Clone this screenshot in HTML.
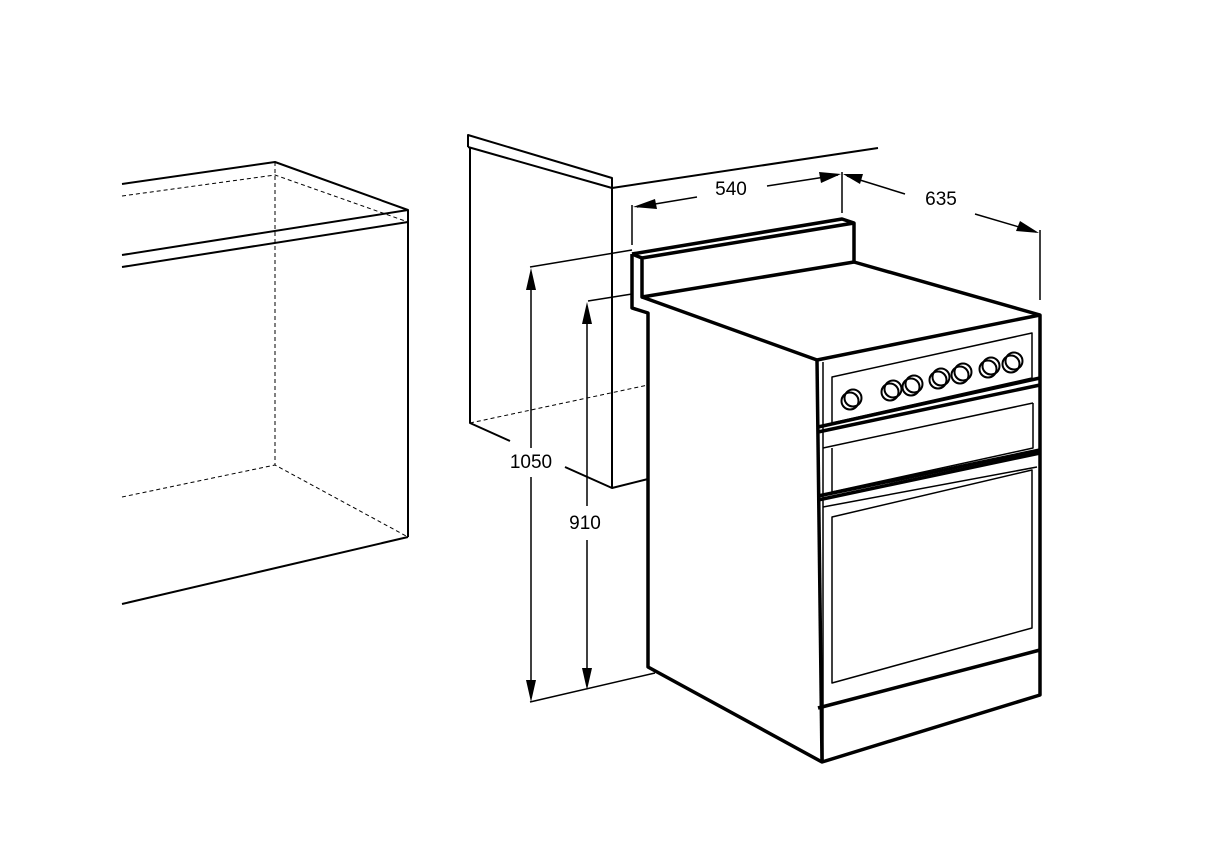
<!DOCTYPE html>
<html><head><meta charset="utf-8"><style>html,body{margin:0;padding:0;background:#fff}svg{display:block}</style></head><body>
<svg width="1214" height="867" viewBox="0 0 1214 867" xmlns="http://www.w3.org/2000/svg" fill="none" stroke="#000" stroke-linejoin="round">
<!-- left cabinet -->
<g stroke-width="2">
<path d="M122 184L275 162L408 210L408 537"/>
<path d="M122 255L408 210M122 267L408 222"/>
<path d="M122 604L408 537"/>
</g>
<g stroke-width="1" stroke-dasharray="4,3">
<path d="M122 196L275 175L408 222"/>
<path d="M275 162L275 465"/>
<path d="M122 497L275 465L408 537"/>
</g>
<!-- side panel -->
<g stroke-width="2">
<path d="M468 147L468 135L612 178L612 188L468 147"/>
<path d="M470 147L470 423L510 441M565 467L612 488L648 479"/>
<path d="M612 188L612 488"/>
<path d="M612 188L878 148"/>
</g>
<path d="M470 423L648 385" stroke-width="1" stroke-dasharray="4,3"/>
<!-- dimension lines -->
<g stroke-width="1.5">
<path d="M530 267L632 250M530 702L655 673M588 301L632 294"/>
<path d="M531 272L531 448M531 477L531 698"/>
<path d="M587 306L587 506M587 540L587 686"/>
<path d="M632 205L632 245M842 172L842 213M1040 230L1040 300"/>
<path d="M637 207L697 197M767 186L838 175"/>
<path d="M847 176L905 194M975 214L1036 232"/>
</g>
<g fill="#000" stroke="none">
<path d="M531 268L526 290L536 290Z"/>
<path d="M531 702L526 680L536 680Z"/>
<path d="M587 302L582 324L592 324Z"/>
<path d="M587 690L582 668L592 668Z"/>
<path d="M633 207L655 199L657 209Z"/>
<path d="M841 174L819 172L821 183Z"/>
<path d="M843 174L863 174L860 184Z"/>
<path d="M1039 233L1020 221L1016 231Z"/>
</g>
<g font-family="'Liberation Sans',sans-serif" font-size="19" fill="#000" stroke="none" text-anchor="middle">
<text x="531" y="468">1050</text>
<text x="585" y="529">910</text>
<text x="731" y="195">540</text>
<text x="941" y="205">635</text>
</g>
<!-- oven -->
<g stroke-width="3.5">
<path d="M632 254L842 219L854 223L854 262L642 297L642 258L854 223"/>
<path d="M632 254L642 258"/>
<path d="M632 254L632 308L648 313L648 667L822 762L1040 695L1040 315L854 262"/>
<path d="M642 297L817 360L1040 315"/>
<path d="M817 360L822 762"/>
<path d="M818 427L1040 378"/>
<path d="M818 432L1040 385"/>
<path d="M818 496L1040 450"/>
<path d="M818 500L1040 453"/>
<path d="M818 708L1040 650"/>
</g>
<g stroke-width="1.5">
<path d="M823 362L823 762"/>
<path d="M832 377L1032 333L1032 378L832 423Z"/>
<path d="M823 448L1033 403"/>
<path d="M832 448L832 492L1033 448L1033 403"/>
<path d="M823 507L1037 467"/>
<path d="M832 517L1032 470L1032 628L832 683Z"/>
</g>
<g stroke-width="2">
<circle cx="850" cy="401" r="8.5"/><circle cx="890" cy="392" r="8.5"/><circle cx="911" cy="387" r="8.5"/>
<circle cx="938" cy="380" r="8.5"/><circle cx="960" cy="375" r="8.5"/><circle cx="988" cy="369" r="8.5"/><circle cx="1011" cy="364" r="8.5"/>
<circle cx="853" cy="398" r="8.5"/><circle cx="893" cy="389" r="8.5"/><circle cx="914" cy="384" r="8.5"/>
<circle cx="941" cy="377" r="8.5"/><circle cx="963" cy="372" r="8.5"/><circle cx="991" cy="366" r="8.5"/><circle cx="1014" cy="361" r="8.5"/>
</g>
</svg>
</body></html>
